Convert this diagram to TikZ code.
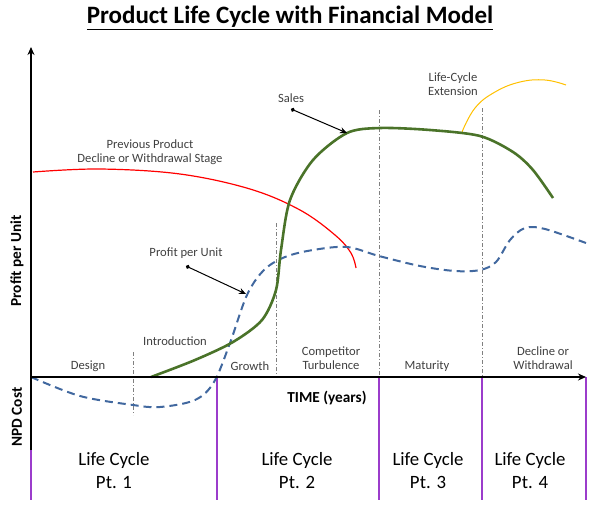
\documentclass[tikz,border=0pt]{standalone}
\usepackage{fontspec}
\setmainfont{Carlito}
\usetikzlibrary{arrows.meta}
\definecolor{salesgreen}{HTML}{4A7329}
\definecolor{profitblue}{HTML}{41689F}
\definecolor{lcpurple}{HTML}{9B3CCB}
\definecolor{extyellow}{HTML}{FFC000}
\definecolor{txtgray}{HTML}{404040}
\tikzset{
  axis/.style={line width=2.4pt, black},
  divider/.style={line width=1.3pt, lcpurple},
  stageline/.style={line width=0.9pt, gray, dash pattern=on 4pt off 2pt on 1pt off 2pt},
  stagelabel/.style={font=\fontsize{12.6}{14.5}\selectfont, text=txtgray, align=center, inner sep=0pt},
  cyclelabel/.style={font=\fontsize{18.8}{23}\selectfont, align=center, inner sep=0pt},
  axlabel/.style={font=\bfseries\fontsize{15.3}{17}\selectfont, inner sep=0pt},
  pointer/.style={line width=1pt, black, {Circle[length=4pt]}-{Stealth[length=7pt,width=6pt]}},
}
\begin{document}
\begin{tikzpicture}[x=1pt,y=-1pt]
\useasboundingbox (0,0) rectangle (591,507);
% title
\node[font=\bfseries\fontsize{25}{29}\selectfont, inner sep=0pt] (title) at (290,18) {\underline{Product Life Cycle with Financial Model}};
% stage dividers (dash-dot)
\draw[stageline] (133,352) -- (133,415);
\draw[stageline] (276,223) -- (276,377);
\draw[stageline] (379,110) -- (379,377);
\draw[stageline] (482,108) -- (482,377);
% purple life cycle dividers
\draw[divider] (31,450) -- (31,500);
\draw[divider] (217,377) -- (217,500);
\draw[divider] (379,377) -- (379,500);
\draw[divider] (482,377) -- (482,500);
\draw[divider] (586,377) -- (586,500);
% red previous product
\draw[red, line width=1.2pt] plot[smooth, tension=0.6] coordinates {(33,172) (100,169) (180,174) (250,189) (300,210) (335,235) (351,253) (356,268)};
% yellow extension
\draw[extyellow, line width=1pt] plot[smooth, tension=0.7] coordinates {(462,132) (475,108) (495,92) (520,82) (545,80) (566,85)};
% blue profit curve
\draw[profitblue, line width=2pt, dash pattern=on 8pt off 5pt] plot[smooth, tension=0.55] coordinates {(31,377) (80,396) (133,405) (160,407) (195,400) (214,382) (230,343) (247,295) (264,270) (285,257) (313,250) (347,247) (379,256) (420,266) (455,271) (480,270) (496,262) (510,240) (525,228) (545,229) (586,243)};
% green sales curve
\draw[salesgreen, line width=2.6pt] plot[smooth, tension=0.5] coordinates {(151,377) (195,360) (233,342) (262,320) (276,290) (281,250) (290,200) (313,160) (347,133) (380,128) (430,130) (480,136) (513,152) (533,170) (553,198)};
% axes
\draw[axis, -{Stealth[length=8pt,width=7pt]}] (31,450) -- (31,47);
\draw[axis, -{Stealth[length=8pt,width=7pt]}] (31,377) -- (586,377);
% axis labels
\node[axlabel, rotate=90] (ylab) at (17,261) {Profit per Unit};
\node[axlabel, rotate=90] (npd) at (17,417) {NPD Cost};
\node[axlabel] (time) at (327,398) {TIME (years)};
% stage labels
\node[stagelabel] (design) at (88,366) {Design};
\node[stagelabel] (intro) at (175,341) {Introduction};
\node[stagelabel] (growth) at (250,366) {Growth};
\node[stagelabel] (comp) at (331,358) {Competitor\\Turbulence};
\node[stagelabel] (mat) at (427,366) {Maturity};
\node[stagelabel] (decl) at (543,358) {Decline or\\Withdrawal};
% curve labels
\node[stagelabel] (prev) at (150,152) {Previous Product\\Decline or Withdrawal Stage};
\node[stagelabel] (ext) at (453,84) {Life-Cycle\\Extension};
\node[stagelabel] (sales) at (291,98) {Sales};
\node[stagelabel] (ppu) at (186,253) {Profit per Unit};
\coordinate (salesdot) at (291,109);
\coordinate (salestip) at (347,133);
\coordinate (ppudot) at (186,266);
\coordinate (pputip) at (246,294);
\draw[pointer] (salesdot) -- (salestip);
\draw[pointer] (ppudot) -- (pputip);
% life cycle labels
\node[cyclelabel] (lc1) at (114,471) {Life Cycle\\Pt. 1};
\node[cyclelabel] (lc2) at (297,471) {Life Cycle\\Pt. 2};
\node[cyclelabel] (lc3) at (428,471) {Life Cycle\\Pt. 3};
\node[cyclelabel] (lc4) at (530,471) {Life Cycle\\Pt. 4};
\end{tikzpicture}
\end{document}
